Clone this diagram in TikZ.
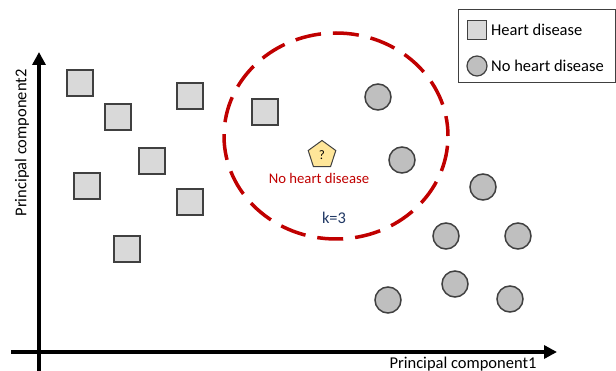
\documentclass[tikz,border=0pt]{standalone}
\usepackage{fontspec}
\setmainfont{Carlito}
\usetikzlibrary{arrows.meta,shapes.geometric}
\definecolor{sqfill}{HTML}{D9D9D9}
\definecolor{cifill}{HTML}{BFBFBF}
\definecolor{edge}{HTML}{404040}
\definecolor{kred}{HTML}{C00000}
\definecolor{kblue}{HTML}{203864}
\definecolor{pent}{HTML}{FFE699}
\tikzset{
  x=1pt, y=-1pt,
  sq/.style={draw=edge, fill=sqfill, line width=1.5pt, minimum size=26pt, inner sep=0pt},
  ci/.style={circle, draw=edge, fill=cifill, line width=1.5pt, minimum size=26pt, inner sep=0pt},
  lsq/.style={draw=edge, fill=sqfill, line width=1.2pt, minimum size=19pt, inner sep=0pt},
  lci/.style={circle, draw=edge, fill=cifill, line width=1.2pt, minimum size=20pt, inner sep=0pt},
  axis/.style={line width=3.5pt, -{Triangle[length=13pt,width=13pt]}},
  lbl/.style={font=\fontsize{16.5}{19}\selectfont, inner sep=0pt},
}
\begin{document}
\begin{tikzpicture}
\useasboundingbox (0,0) rectangle (616,371);
% axes
\coordinate (yb) at (39,371);
\coordinate (yt) at (39,52);
\coordinate (xl) at (11,352);
\coordinate (xr) at (557,352);
\draw[axis] (yb) -- (yt);
\draw[axis] (xl) -- (xr);
\node[lbl] (xlab) at (463,364) {Principal component1};
\node[lbl, rotate=90] (ylab) at (22,143) {Principal component2};
% neighbourhood
\node[ellipse, draw=kred, line width=3.5pt, dash pattern=on 26pt off 12pt, dash phase=6pt,
      minimum width=224pt, minimum height=206pt] (nb) at (336,136) {};
% squares
\node[sq] (s1) at (80,83) {};
\node[sq] (s2) at (118,117) {};
\node[sq] (s3) at (190,96) {};
\node[sq] (s4) at (152,161) {};
\node[sq] (s5) at (87,186) {};
\node[sq] (s6) at (190,202) {};
\node[sq] (s7) at (127,249) {};
\node[sq] (s8) at (265,112) {};
% circles
\node[ci] (c1) at (378,97) {};
\node[ci] (c2) at (402,160) {};
\node[ci] (c3) at (483,187) {};
\node[ci] (c4) at (446,236) {};
\node[ci] (c5) at (518,236) {};
\node[ci] (c6) at (455,284) {};
\node[ci] (c7) at (388,300) {};
\node[ci] (c8) at (510,299) {};
% query point
\node[regular polygon, regular polygon sides=5, draw=edge, fill=pent, line width=1pt,
      minimum size=29pt, inner sep=0pt, font=\fontsize{13}{14}\selectfont] (q) at (322,155) {?};
\node[font=\fontsize{14.7}{17}\selectfont, text=kred, inner sep=0pt] (qlab) at (319,178) {No heart disease};
\node[font=\fontsize{16.4}{18}\selectfont, text=kblue, inner sep=0pt] (k) at (334,218) {k=3};
% legend
\node[draw=edge, line width=1pt, minimum width=157pt, minimum height=73pt, inner sep=0pt] (leg) at (536.5,46.5) {};
\node[lsq] (ls) at (477,30) {};
\node[lci] (lc) at (477,66) {};
\node[lbl, anchor=west] (lst) at (491,30) {Heart disease};
\node[lbl, anchor=west] (lct) at (491,66) {No heart disease};
\end{tikzpicture}
\end{document}
